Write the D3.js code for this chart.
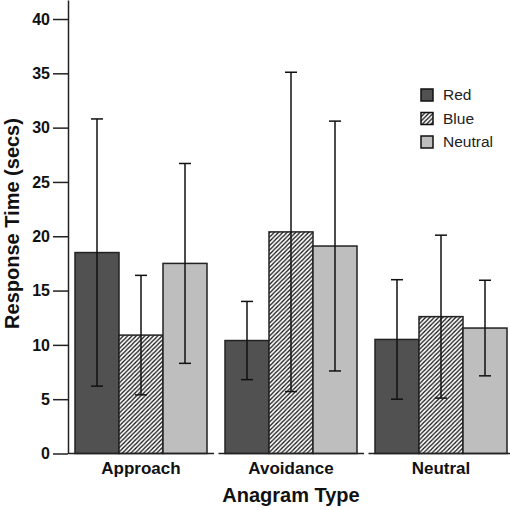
<!DOCTYPE html>
<html>
<head>
<meta charset="utf-8">
<script src="https://cdn.jsdelivr.net/npm/d3@7"></script>
<style>
  body { margin: 0; background: #fff; }
  text { font-family: "Liberation Sans", Arial, sans-serif; }
</style>
</head>
<body>
<div id="chart"></div>
<script>
var types = ["Approach", "Avoidance", "Neutral"],
    conds = ["Red", "Blue", "Neutral"],
    yTicks = [0, 5, 10, 15, 20, 25, 30, 35, 40];

// mean response time per anagram type, one array per condition
var redMean = [18.5, 10.4, 10.5],
    blueMean = [10.9, 20.4, 12.6],
    neutralMean = [17.5, 19.1, 11.55];

// error bar half-lengths
var redErr = [12.3, 3.6, 5.5],
    blueErr = [5.5, 14.7, 7.5],
    neutralErr = [9.2, 11.5, 4.4];

var means = [redMean, blueMean, neutralMean],
    errs = [redErr, blueErr, neutralErr];

var data = [];
types.forEach(function(t, i) {
  conds.forEach(function(c, j) {
    data.push({type: t, cond: c, mean: means[j][i], err: errs[j][i]});
  });
});

var W = 510, H = 510,
    margin = {top: 0, right: 0, bottom: 56.5, left: 68},
    width = W - margin.left - margin.right,
    height = H - margin.top - margin.bottom;

var svg = d3.select("#chart").append("svg")
    .attr("width", W)
    .attr("height", H);

var defs = svg.append("defs");
var s = 4.3;
defs.append("pattern")
    .attr("id", "hatch")
    .attr("patternUnits", "userSpaceOnUse")
    .attr("width", s)
    .attr("height", s)
  .call(function(p) {
    p.append("rect").attr("width", s).attr("height", s).attr("fill", "#fff");
    p.append("path")
      .attr("d", "M0," + s + "L" + s + ",0M" + (-s / 2) + "," + (s / 2) + "L" + (s / 2) + "," + (-s / 2) +
                 "M" + (s / 2) + "," + (s * 1.5) + "L" + (s * 1.5) + "," + (s / 2))
      .attr("stroke", "#111")
      .attr("stroke-width", 1.25);
  });

var fills = {"Red": "#515151", "Blue": "url(#hatch)", "Neutral": "#bebebe"};

var g = svg.append("g")
    .attr("transform", "translate(" + margin.left + "," + margin.top + ")");

var x0 = d3.scaleBand().domain(types).range([0, 450]);
var x1 = d3.scaleBand().domain(conds).range([7, 139]);
var y = d3.scaleLinear().domain([0, 41.75]).range([height, 0]);

// bars
g.append("g").selectAll("rect")
  .data(data)
  .enter().append("rect")
    .attr("x", function(d) { return x0(d.type) + x1(d.cond); })
    .attr("y", function(d) { return y(d.mean); })
    .attr("width", x1.bandwidth())
    .attr("height", function(d) { return height - y(d.mean); })
    .attr("fill", function(d) { return fills[d.cond]; })
    .attr("stroke", "#222")
    .attr("stroke-width", 1.5);

// error bars
var eb = g.append("g").selectAll("g")
  .data(data)
  .enter().append("g")
    .attr("transform", function(d) { return "translate(" + (x0(d.type) + x1(d.cond) + x1.bandwidth() / 2) + ",0)"; })
    .attr("stroke", "#111")
    .attr("stroke-width", 1.5);
eb.append("line")
    .attr("y1", function(d) { return y(d.mean - d.err); })
    .attr("y2", function(d) { return y(d.mean + d.err); });
eb.append("line")
    .attr("x1", -6).attr("x2", 6)
    .attr("y1", function(d) { return y(d.mean + d.err); })
    .attr("y2", function(d) { return y(d.mean + d.err); });
eb.append("line")
    .attr("x1", -6).attr("x2", 6)
    .attr("y1", function(d) { return y(d.mean - d.err); })
    .attr("y2", function(d) { return y(d.mean - d.err); });

// broken baseline, one piece per group
g.append("g").selectAll("line")
  .data(types)
  .enter().append("line")
    .attr("x1", function(d) { return x0(d) + 0.5; })
    .attr("x2", function(d) { return x0(d) + 146; })
    .attr("y1", height)
    .attr("y2", height)
    .attr("stroke", "#222")
    .attr("stroke-width", 1.5);

// y axis
var yAxis = g.append("g")
    .call(d3.axisLeft(y).tickValues(yTicks).tickSize(15).tickSizeOuter(0).tickPadding(3));
yAxis.select(".domain").attr("stroke", "#222").attr("stroke-width", 1.5);
yAxis.selectAll(".tick line").attr("stroke", "#222").attr("stroke-width", 1.5);
yAxis.selectAll(".tick text")
    .attr("fill", "#111")
    .style("font-family", "'Liberation Sans', Arial, sans-serif")
    .style("font-size", "16px")
    .style("font-weight", "bold");

// category labels
g.append("g").selectAll("text")
  .data(types)
  .enter().append("text")
    .attr("x", function(d) { return x0(d) + 73; })
    .attr("y", height + 20.5)
    .attr("text-anchor", "middle")
    .attr("fill", "#111")
    .style("font-size", "17px")
    .style("font-weight", "bold")
    .text(function(d) { return d; });

// axis titles
svg.append("text")
    .attr("x", 291)
    .attr("y", 502)
    .attr("text-anchor", "middle")
    .attr("fill", "#111")
    .style("font-size", "20px")
    .style("font-weight", "bold")
    .text("Anagram Type");

svg.append("text")
    .attr("transform", "translate(19,223.5) rotate(-90)")
    .attr("text-anchor", "middle")
    .attr("fill", "#111")
    .style("font-size", "20px")
    .style("font-weight", "bold")
    .text("Response Time (secs)");

// legend
var legend = svg.append("g").selectAll("g")
  .data(conds)
  .enter().append("g")
    .attr("transform", function(d, i) { return "translate(421," + (89 + i * 23.5) + ")"; });
legend.append("rect")
    .attr("width", 12)
    .attr("height", 12)
    .attr("fill", function(d) { return fills[d]; })
    .attr("stroke", "#111")
    .attr("stroke-width", 1.5);
legend.append("text")
    .attr("x", 22)
    .attr("y", 11)
    .attr("fill", "#222")
    .style("font-size", "15.5px")
    .text(function(d) { return d; });
</script>
</body>
</html>
